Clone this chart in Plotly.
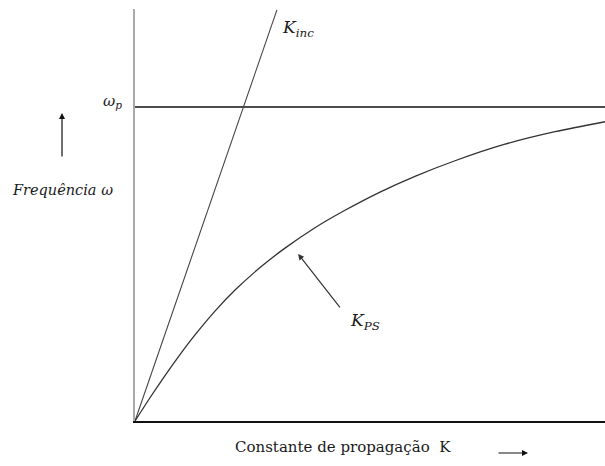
import plotly.graph_objects as go

# Surface plasmon dispersion: wave-vector K (normalised) vs frequency (in units of omega_p)
k_ps = [0.0, 0.0319, 0.0638, 0.0957, 0.1277, 0.1702, 0.2128, 0.2660, 0.3191,
        0.3830, 0.4468, 0.5213, 0.5957, 0.6809, 0.7872, 0.8936, 1.0]
w_ps = [0.0, 0.0740, 0.1447, 0.2116, 0.2742, 0.3500, 0.4169, 0.4885, 0.5506,
        0.6156, 0.6710, 0.7290, 0.7791, 0.8288, 0.8814, 0.9212, 0.9530]

# Incident light line
k_inc = [0.0, 0.302]
w_inc = [0.0, 1.309]

# Plasma frequency level
k_wp = [0.0, 1.0]
w_wp = [1.0, 1.0]

W, H = 605, 466
L, R, T, B = 135, 0, 9, 45
pw, ph = W - L - R, H - T - B
Y_MAX = 1.312

def px(x):
    return (x - L) / pw

def py(y):
    return (H - B - y) / ph

SERIF = "DejaVu Serif"
INK = "#1a1a1a"

fig = go.Figure()
fig.add_trace(go.Scatter(x=k_wp, y=w_wp, mode="lines",
                         line=dict(color="#111111", width=1.3), hoverinfo="skip"))
fig.add_trace(go.Scatter(x=k_inc, y=w_inc, mode="lines",
                         line=dict(color="#444444", width=1.1), hoverinfo="skip"))
fig.add_trace(go.Scatter(x=k_ps, y=w_ps, mode="lines",
                         line=dict(color="#333333", width=1.3, shape="spline", smoothing=0.8),
                         hoverinfo="skip"))

ann = []
# Curve labels
ann.append(dict(xref="paper", yref="paper", x=px(280), y=py(29), xanchor="left", yanchor="middle",
                text="<i>K</i><sub><i>inc</i></sub>", showarrow=False,
                font=dict(family=SERIF, size=17, color=INK)))
ann.append(dict(xref="paper", yref="paper", x=px(348), y=py(321), xanchor="left", yanchor="middle",
                text="<i>K</i><sub><i>PS</i></sub>", showarrow=False,
                font=dict(family=SERIF, size=17, color=INK)))
ann.append(dict(xref="paper", yref="paper", x=px(124), y=py(101), xanchor="right", yanchor="middle",
                text="<i>ω</i><sub><i>p</i></sub>", showarrow=False,
                font=dict(family=SERIF, size=15, color=INK)))
# Axis titles
ann.append(dict(xref="paper", yref="paper", x=px(62), y=py(190), xanchor="center", yanchor="middle",
                text="<i>Frequência ω</i>", showarrow=False,
                font=dict(family=SERIF, size=14.5, color=INK)))
ann.append(dict(xref="paper", yref="paper", x=px(343), y=py(447), xanchor="center", yanchor="middle",
                text="Constante de propagação  K", showarrow=False,
                font=dict(family=SERIF, size=15, color=INK)))
# Direction arrows
ann.append(dict(xref="paper", yref="paper", x=px(62), y=py(113), ax=0, ay=45,
                text="", showarrow=True, arrowhead=2, arrowsize=1, arrowwidth=1.2,
                arrowcolor="#111111"))
ann.append(dict(xref="paper", yref="paper", x=px(528), y=py(453), ax=-31, ay=0,
                text="", showarrow=True, arrowhead=2, arrowsize=1, arrowwidth=1.2,
                arrowcolor="#111111"))
# Pointer to the surface plasmon curve
ann.append(dict(xref="x", yref="y", x=0.347, y=0.532, ax=43, ay=55,
                text="", showarrow=True, arrowhead=2, arrowsize=1, arrowwidth=1.2,
                arrowcolor="#333333"))

fig.update_layout(
    width=W, height=H,
    margin=dict(l=L, r=R, t=T, b=B),
    paper_bgcolor="white", plot_bgcolor="white",
    showlegend=False,
    annotations=ann,
    font=dict(family=SERIF),
    xaxis=dict(range=[0, 1], showgrid=False, zeroline=False, showticklabels=False,
               ticks="", showline=True, linecolor="#111111", linewidth=1.5, fixedrange=True),
    yaxis=dict(range=[0, Y_MAX], showgrid=False, zeroline=False, showticklabels=False,
               ticks="", showline=True, linecolor="#aaaaaa", linewidth=2, fixedrange=True),
)

fig.write_html("out.html")
